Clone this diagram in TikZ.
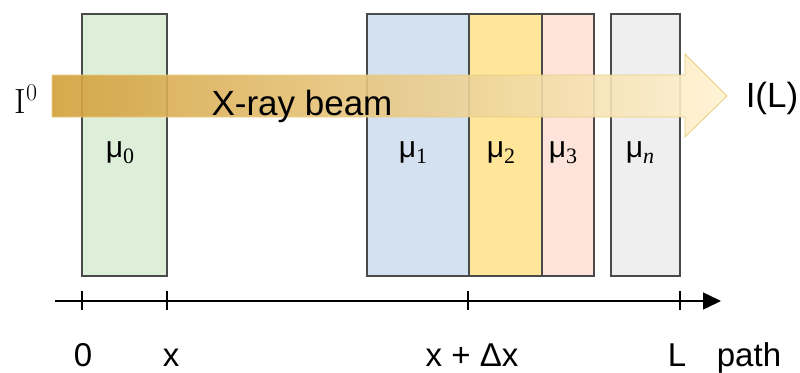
\documentclass[tikz,border=0pt]{standalone}
\usepackage{fontspec}
\setmainfont{Liberation Sans}
\newfontfamily\lmrom{Latin Modern Roman}
\newfontfamily\subserif{Liberation Serif}
\usetikzlibrary{arrows.meta}
\newcommand\lowsub[1]{\raisebox{-6pt}{\subserif\fontsize{22}{24}\selectfont #1}}
\definecolor{cgreen}{HTML}{DDEFD9}
\definecolor{cblue}{HTML}{D4E1F1}
\definecolor{cyellow}{HTML}{FFE699}
\definecolor{cpink}{HTML}{FDE3D9}
\definecolor{cgrey}{HTML}{EFEFEF}
\definecolor{cedge}{HTML}{4A4A4A}
\definecolor{beamL}{HTML}{D3A03A}
\definecolor{beamM}{HTML}{F3CB68}
\definecolor{beamR}{HTML}{FFF3D2}
\definecolor{beamE}{HTML}{EBCD80}
\tikzset{
  layer/.style={draw=cedge, line width=1.1pt, inner sep=0pt, outer sep=0pt,
    minimum height=262pt},
  mulab/.style={font=\fontsize{30}{34}\selectfont, anchor=base},
  axlab/.style={font=\fontsize{33}{36}\selectfont, anchor=base, inner sep=0pt},
  tick/.style={line width=1.2pt},
}
\begin{document}
\begin{tikzpicture}[x=1pt,y=-1pt]
\useasboundingbox (0,0) rectangle (800,372);
% layers
\node[layer, fill=cgreen, minimum width=85pt] (m0) at (124.5,145) {};
\node[layer, fill=cblue, minimum width=102pt] (m1) at (418,145) {};
\node[layer, fill=cyellow, minimum width=73pt] (m2) at (505.5,145) {};
\node[layer, fill=cpink, minimum width=52pt] (m3) at (568,145) {};
\node[layer, fill=cgrey, minimum width=69pt] (mn) at (645.5,145) {};
% labels
\node[mulab] (l0) at (120,157) {μ\lowsub{0}};
\node[mulab] (l1) at (413,157) {μ\lowsub{1}};
\node[mulab] (l2) at (501,157) {μ\lowsub{2}};
\node[mulab] (l3) at (563,157) {μ\lowsub{3}};
\node[mulab] (ln) at (640,157) {μ\lowsub{\itshape n}};
% beam
\path[draw=beamE, line width=0.8pt, fill opacity=0.9, left color=beamL, middle color=beamM, right color=beamR]
  (52,75) -- (685,75) -- (685,54) -- (727,96) -- (685,137) -- (685,117) -- (52,117) -- cycle;
\node[font=\fontsize{35}{40}\selectfont, anchor=base] (beam) at (302,115) {X-ray beam};
\node[font=\fontsize{35}{40}\selectfont\lmrom, anchor=base] (i0) at (26,113) {I\raisebox{13pt}{\fontsize{24}{26}\selectfont 0}};
\node[font=\fontsize{35}{40}\selectfont, anchor=base] (iL) at (772,107) {I(L)};
% axis
\coordinate (a0) at (55,301);
\coordinate (a1) at (721,301);
\draw[line width=1.5pt, -{Triangle[length=18pt,width=17pt]}] (a0) -- (a1);
\foreach \t/\nm in {82/t0,167/t1,468/t2,680/t3}{
  \draw[tick] (\t,291) coordinate (\nm) -- (\t,310);
}
\node[axlab] (x0) at (83,366) {0};
\node[axlab] (x1) at (171,366) {x};
\node[axlab] (x2) at (472,366) {x + Δx};
\node[axlab] (x3) at (677,366) {L};
\node[axlab] (x4) at (749,366) {path};
\end{tikzpicture}
\end{document}
